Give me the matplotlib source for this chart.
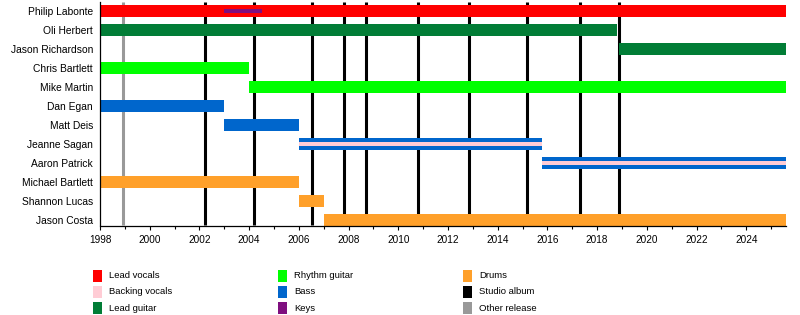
import matplotlib
matplotlib.use("Agg")
import matplotlib.pyplot as plt
from matplotlib.patches import Rectangle
from matplotlib.ticker import MultipleLocator

plt.rcParams['font.family'] = ['Liberation Sans', 'DejaVu Sans']

# ---- data ----
END = 2025.6
members = ["Philip Labonte", "Oli Herbert", "Jason Richardson", "Chris Bartlett",
           "Mike Martin", "Dan Egan", "Matt Deis", "Jeanne Sagan", "Aaron Patrick",
           "Michael Bartlett", "Shannon Lucas", "Jason Costa"]

bar_member = ["Philip Labonte", "Oli Herbert", "Jason Richardson", "Chris Bartlett",
              "Mike Martin", "Dan Egan", "Matt Deis", "Jeanne Sagan", "Aaron Patrick",
              "Michael Bartlett", "Shannon Lucas", "Jason Costa"]
bar_role = ["Lead vocals", "Lead guitar", "Lead guitar", "Rhythm guitar",
            "Rhythm guitar", "Bass", "Bass", "Bass", "Bass",
            "Drums", "Drums", "Drums"]
bar_start = [1998.0, 1998.0, 2018.9, 1998.0, 2004.0, 1998.0, 2003.0, 2006.0,
             2015.77, 1998.0, 2006.0, 2007.0]
bar_end = [END, 2018.8, END, 2004.0, END, 2003.0, 2006.0, 2015.77, END,
           2006.0, 2007.0, END]

# secondary roles
keys_member = ["Philip Labonte"]
keys_start = [2003.0]
keys_end = [2004.5]

bvox_member = ["Jeanne Sagan", "Aaron Patrick"]
bvox_start = [2006.0, 2015.77]
bvox_end = [2015.77, END]

studio_albums = [2002.22, 2004.18, 2006.52, 2007.81, 2008.71, 2010.81,
                 2012.85, 2015.16, 2017.31, 2018.90]
other_releases = [1998.94]

role_colors = {
    "Lead vocals": "#FF0000",
    "Backing vocals": "#FFCCD5",
    "Lead guitar": "#017D36",
    "Rhythm guitar": "#00FF00",
    "Bass": "#0066CC",
    "Keys": "#7F0F7F",
    "Drums": "#FFA02A",
    "Studio album": "#000000",
    "Other release": "#999999",
}
legend_cols = [["Lead vocals", "Backing vocals", "Lead guitar"],
               ["Rhythm guitar", "Bass", "Keys"],
               ["Drums", "Studio album", "Other release"]]

# ---- figure ----
W, H = 800, 315
fig = plt.figure(figsize=(W / 100, H / 100), dpi=100)
ax = fig.add_axes([100 / W, 1 - 225.5 / H, 686 / W, 223.5 / H])

ypos = {m: i for i, m in enumerate(members)}
ytop, ybot = -0.474, 11.29

ax.vlines(other_releases, ytop, ybot, color=role_colors["Other release"],
          lw=2.2, zorder=1)
ax.vlines(studio_albums, ytop, ybot, color=role_colors["Studio album"],
          lw=2.2, zorder=1)

for m, r, s, e in zip(bar_member, bar_role, bar_start, bar_end):
    ax.barh(ypos[m], e - s, left=s, height=0.62, color=role_colors[r],
            zorder=2, linewidth=0)
for m, s, e in zip(bvox_member, bvox_start, bvox_end):
    ax.barh(ypos[m], e - s, left=s, height=0.2, color=role_colors["Backing vocals"],
            zorder=3, linewidth=0)
for m, s, e in zip(keys_member, keys_start, keys_end):
    ax.barh(ypos[m], e - s, left=s, height=0.17, color=role_colors["Keys"],
            zorder=3, linewidth=0)

ax.set_xlim(1998, END)
ax.set_ylim(ybot, ytop)
ax.set_yticks(range(len(members)))
ax.set_yticklabels(members, fontsize=7.4)
ax.tick_params(axis="y", length=0, pad=5)
ax.xaxis.set_major_locator(MultipleLocator(2))
ax.xaxis.set_minor_locator(MultipleLocator(1))
ax.xaxis.set_major_formatter(matplotlib.ticker.FuncFormatter(lambda v, p: f"{int(round(v))}"))
ax.tick_params(axis="x", which="major", length=3, width=0.8, labelsize=7.2, pad=4)
ax.tick_params(axis="x", which="minor", length=2.5, width=0.8)
for side in ("top", "right"):
    ax.spines[side].set_visible(False)
for side in ("left", "bottom"):
    ax.spines[side].set_linewidth(0.9)

# ---- legend (manual, three columns) ----
col_x = [93.3, 278.3, 463.0]
row_y = [275.7, 291.7, 308.3]
mw, mh = 9, 12
for cx, labels in zip(col_x, legend_cols):
    for ry, lab in zip(row_y, labels):
        fig.add_artist(Rectangle((cx / W, 1 - (ry + mh / 2) / H), mw / W, mh / H,
                                 transform=fig.transFigure,
                                 facecolor=role_colors[lab], edgecolor="none"))
        fig.text((cx + 16) / W, 1 - ry / H, lab, fontsize=6.8, va="center",
                 ha="left")

fig.savefig("out.png", dpi=100)
